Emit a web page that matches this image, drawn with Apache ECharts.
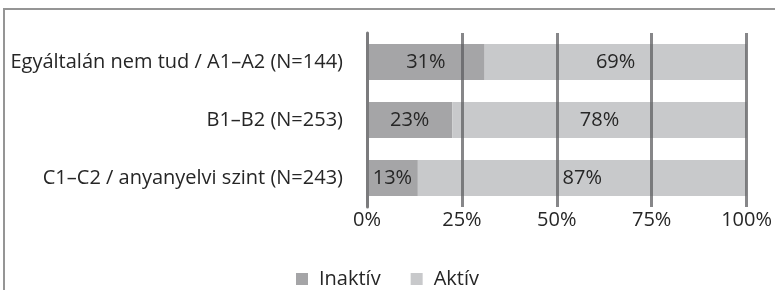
<!DOCTYPE html>
<html>
<head>
<meta charset="utf-8">
<script src="https://cdn.jsdelivr.net/npm/echarts@6/dist/echarts.min.js"></script>
<style>
  html, body { margin: 0; padding: 0; background: #fff; }
  #chart { width: 775px; height: 290px; }
</style>
</head>
<body>
<div id="chart"></div>
<script>
const categories = [
  'Egyáltalán nem tud / A1–A2 (N=144)',
  'B1–B2 (N=253)',
  'C1–C2 / anyanyelvi szint (N=243)'
]
const inaktiv = [31, 22.5, 13.4]
const aktiv = [69, 77.5, 86.6]
const xTicks = [0, 25, 50, 75, 100]

const font = '"Open Sans", "Noto Sans", sans-serif'

const chart = echarts.init(document.getElementById('chart'))

const barLabel = {
  show: true,
  position: 'inside',
  color: '#262626',
  fontSize: 20,
  fontFamily: font,
  formatter: p => Math.round(p.value) + '%'
}

chart.setOption({
  animation: false,
  textStyle: { fontFamily: font },
  graphic: [{
    type: 'rect',
    shape: { x: 4, y: 9, width: 800, height: 300 },
    style: { fill: 'none', stroke: '#959595', lineWidth: 2 }
  }],
  grid: {
    left: 367,
    right: 27,
    top: 33,
    bottom: 83
  },
  legend: {
    top: 269,
    left: 'center',
    padding: 0,
    itemWidth: 12,
    itemHeight: 12,
    itemGap: 30,
    icon: 'rect',
    textStyle: { fontSize: 20, color: '#262626', fontFamily: font, padding: [0, 0, 0, 6] },
    data: ['Inaktív', 'Aktív']
  },
  xAxis: {
    type: 'value',
    min: xTicks[0],
    max: xTicks[xTicks.length - 1],
    interval: 25,
    z: 5,
    axisLine: { show: false },
    axisTick: { show: false },
    axisLabel: {
      margin: 3,
      fontSize: 20,
      color: '#262626',
      formatter: v => v + '%'
    },
    splitLine: {
      show: true,
      lineStyle: { color: 'rgba(95,95,98,0.75)', width: 3 }
    }
  },
  yAxis: {
    type: 'category',
    data: categories,
    inverse: true,
    z: 6,
    axisLine: { show: true, lineStyle: { color: '#7b7b7d', width: 3 } },
    axisTick: { show: false },
    axisLabel: {
      margin: 24,
      fontSize: 20,
      color: '#262626'
    }
  },
  series: [
    {
      name: 'Inaktív',
      type: 'bar',
      stack: 'total',
      data: inaktiv,
      barCategoryGap: '38%',
      itemStyle: { color: '#a5a5a7' },
      label: barLabel
    },
    {
      name: 'Aktív',
      type: 'bar',
      stack: 'total',
      data: aktiv,
      barCategoryGap: '38%',
      itemStyle: { color: '#c8c9cb' },
      label: barLabel
    }
  ]
})
</script>
</body>
</html>
